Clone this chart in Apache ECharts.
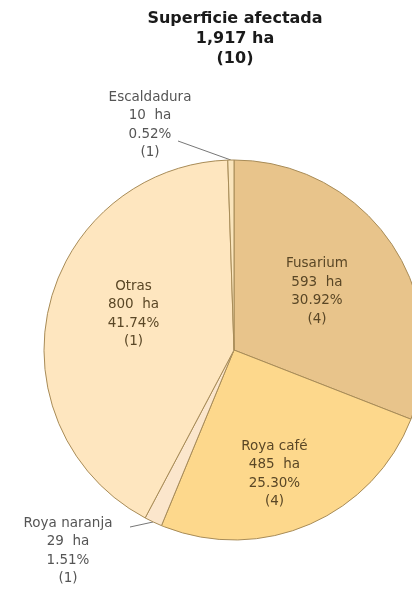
<!DOCTYPE html>
<html>
<head>
<meta charset="utf-8">
<script src="https://cdn.jsdelivr.net/npm/echarts@6/dist/echarts.min.js"></script>
<style>html,body{margin:0;padding:0;background:#fff;}#c{width:412px;height:594px;}</style>
</head>
<body>
<div id="c"></div>
<script>
const categories = ['Fusarium', 'Roya café', 'Roya naranja', 'Otras', 'Escaldadura'];
const hectares = [593, 485, 29, 800, 10];
const percents = ['30.92%', '25.30%', '1.51%', '41.74%', '0.52%'];
const counts = [4, 4, 1, 1, 1];
const colors = ['#E8C48B', '#FDD88C', '#FBE6CC', '#FEE6BF', '#FAE5BC'];
const titleLines = ['Superficie afectada', '1,917 ha', '(10)'];

const FONT = 'DejaVu Sans';
const insideDelta = {
  'Fusarium': [2, -3],
  'Roya café': [2, 34],
  'Otras': [-5, -14]
};
const outsideTarget = {
  'Escaldadura': { x: 150, y: 125, end: [178, 141] },
  'Roya naranja': { x: 68, y: 551, end: [130, 527] }
};

const data = categories.map((name, i) => {
  const inside = !!insideDelta[name];
  return {
    name: name,
    value: hectares[i],
    itemStyle: { color: colors[i] },
    label: {
      show: true,
      position: inside ? 'inside' : 'outside',
      formatter: name + '\n' + hectares[i] + '  ha\n' + percents[i] + '\n(' + counts[i] + ')',
      color: inside ? '#5a4726' : '#555555',
      fontFamily: FONT,
      fontSize: 13.5,
      lineHeight: 18.5,
      align: 'center'
    },
    labelLine: inside ? { show: false } : { show: true, length: 10, length2: 20, lineStyle: { color: '#777', width: 1 } }
  };
});

const chart = echarts.init(document.getElementById('c'));
chart.setOption({
  animation: false,
  backgroundColor: '#ffffff',
  title: {
    text: titleLines.join('\n'),
    left: 230,
    top: 4,
    textAlign: 'center',
    textStyle: { fontFamily: FONT, fontWeight: 'bold', fontSize: 16, lineHeight: 20, color: '#1a1a1a' }
  },
  series: [{
    type: 'pie',
    center: [234, 350],
    radius: 190,
    startAngle: 90,
    clockwise: true,
    avoidLabelOverlap: false,
    itemStyle: { borderColor: '#a88c58', borderWidth: 1 },
    data: data,
    labelLayout: function (p) {
      const n = categories[p.dataIndex];
      if (insideDelta[n]) {
        return { dx: insideDelta[n][0], dy: insideDelta[n][1] };
      }
      const t = outsideTarget[n];
      const pts = p.labelLinePoints;
      return {
        x: t.x, y: t.y, align: 'center', verticalAlign: 'middle',
        labelLinePoints: pts ? [pts[0], t.end, t.end] : undefined
      };
    }
  }]
});
</script>
</body>
</html>
